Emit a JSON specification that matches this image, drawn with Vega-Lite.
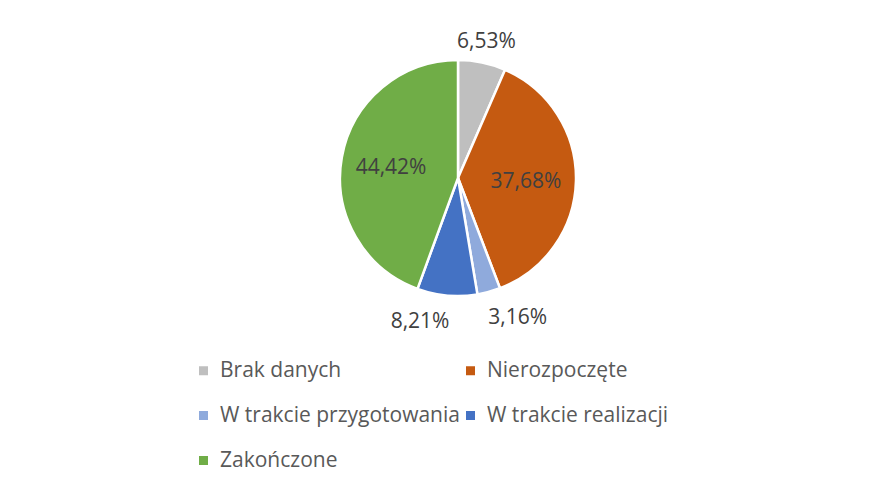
{
  "$schema": "https://vega.github.io/schema/vega-lite/v6.json",
  "width": 868,
  "height": 356,
  "autosize": {"type": "none"},
  "padding": {"left": 24, "top": 0, "right": 0, "bottom": 135},
  "background": "white",
  "config": {
    "view": {"stroke": null},
    "locale": {"number": {"decimal": ",", "thousands": " ", "grouping": [3], "currency": ["", " zł"]}},
    "legend": {
      "orient": "none",
      "legendX": 169,
      "legendY": 360,
      "columns": 2,
      "direction": "horizontal",
      "symbolType": "square",
      "symbolSize": 81,
      "symbolStrokeWidth": 0,
      "labelFont": "Open Sans",
      "labelFontSize": 21,
      "labelColor": "#595959",
      "labelOffset": 6,
      "labelLimit": 0,
      "rowPadding": 23,
      "columnPadding": -3,
      "padding": 0
    }
  },
  "data": {
    "values": [
      {"category": "Brak danych", "value": 0.0653, "order": 1},
      {"category": "Nierozpoczęte", "value": 0.3768, "order": 2},
      {"category": "W trakcie przygotowania", "value": 0.0316, "order": 3},
      {"category": "W trakcie realizacji", "value": 0.0821, "order": 4},
      {"category": "Zakończone", "value": 0.4442, "order": 5}
    ]
  },
  "encoding": {
    "theta": {"field": "value", "type": "quantitative", "stack": true},
    "order": {"field": "order", "type": "quantitative"}
  },
  "layer": [
    {
      "mark": {"type": "arc", "outerRadius": 118, "stroke": "white", "strokeWidth": 2.5},
      "encoding": {
        "color": {
          "field": "category",
          "type": "nominal",
          "sort": null,
          "scale": {
            "domain": ["Brak danych", "Nierozpoczęte", "W trakcie przygotowania", "W trakcie realizacji", "Zakończone"],
            "range": ["#BFBFBF", "#C55A11", "#8FAADC", "#4472C4", "#70AD47"]
          },
          "legend": {"title": null}
        }
      }
    },
    {
      "mark": {"type": "text", "radius": 68, "dy": 2, "font": "Open Sans", "fontSize": 21, "fill": "#404040"},
      "encoding": {
        "text": {"condition": {"test": "datum.value > 0.2", "field": "value", "type": "quantitative", "format": ".2%"}, "value": ""}
      }
    },
    {
      "mark": {"type": "text", "radius": 140, "dy": 1, "font": "Open Sans", "fontSize": 21, "fill": "#404040"},
      "encoding": {
        "text": {"condition": {"test": "datum.category === 'Brak danych'", "field": "value", "type": "quantitative", "format": ".2%"}, "value": ""}
      }
    },
    {
      "mark": {"type": "text", "radius": 140, "dx": 23, "dy": 5, "font": "Open Sans", "fontSize": 21, "fill": "#404040"},
      "encoding": {
        "text": {"condition": {"test": "datum.category === 'W trakcie przygotowania'", "field": "value", "type": "quantitative", "format": ".2%"}, "value": ""}
      }
    },
    {
      "mark": {"type": "text", "radius": 140, "dx": -25, "dy": 5, "font": "Open Sans", "fontSize": 21, "fill": "#404040"},
      "encoding": {
        "text": {"condition": {"test": "datum.category === 'W trakcie realizacji'", "field": "value", "type": "quantitative", "format": ".2%"}, "value": ""}
      }
    }
  ]
}
